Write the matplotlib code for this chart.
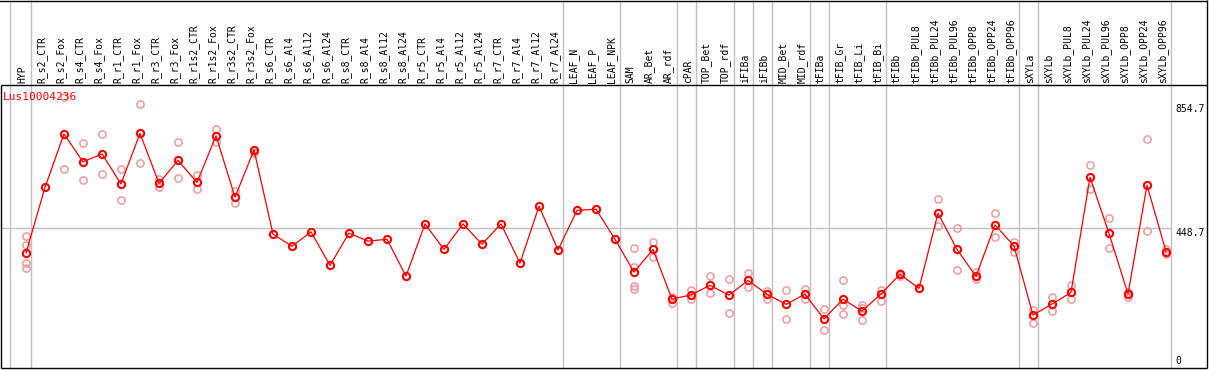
import matplotlib
matplotlib.use("Agg")
import matplotlib.pyplot as plt

# sample names (x categories)
samples = ["HYP", "R_s2_CTR", "R_s2_Fox", "R_s4_CTR", "R_s4_Fox", "R_r1_CTR", "R_r1_Fox",
           "R_r3_CTR", "R_r3_Fox", "R_r1s2_CTR", "R_r1s2_Fox", "R_r3s2_CTR", "R_r3s2_Fox",
           "R_s6_CTR", "R_s6_Al4", "R_s6_Al12", "R_s6_Al24", "R_s8_CTR", "R_s8_Al4",
           "R_s8_Al12", "R_s8_Al24", "R_r5_CTR", "R_r5_Al4", "R_r5_Al12", "R_r5_Al24",
           "R_r7_CTR", "R_r7_Al4", "R_r7_Al12", "R_r7_Al24", "LEAF_N", "LEAF_P", "LEAF_NPK",
           "SAM", "AR_Bet", "AR_rdf", "cPAR", "TOP_Bet", "TOP_rdf", "iFIBa", "iFIBb",
           "MID_Bet", "MID_rdf", "tFIBa", "tFIB_Gr", "tFIB_Li", "tFIB_Bi", "tFIBb",
           "tFIBb_PUL8", "tFIBb_PUL24", "tFIBb_PUL96", "tFIBb_OPP8", "tFIBb_OPP24", "tFIBb_OPP96",
           "sXYLa", "sXYLb", "sXYLb_PUL8", "sXYLb_PUL24", "sXYLb_PUL96", "sXYLb_OPP8",
           "sXYLb_OPP24", "sXYLb_OPP96"]

# mean expression per sample
means = [368, 582, 756, 665, 691, 593, 758, 595, 670, 598, 750, 550, 704,
         430, 390, 437, 328, 433, 407, 413, 293, 463, 380, 463, 397, 463, 335, 521, 378,
         507, 511, 413,
         306, 380, 218, 232, 263, 231, 279, 234, 201, 234, 154, 218, 179, 235, 299,
         253, 498, 380, 292, 460, 391,
         166, 202, 240, 615, 432, 235, 589, 373]

# single replicates (empty = hidden under the mean marker)
replicates = [[424, 394, 335, 319], [], [875, 641], [726, 606], [756, 626], [641, 540],
              [854, 660], [608, 582], [730, 612], [621, 578], [771, 731], [571, 530], [701, 695],
              [], [], [], [], [], [], [], [], [], [], [], [], [], [], [], [], [], [], [],
              [384, 324, 261, 250], [404, 356], [226, 205], [248, 220], [293, 237], [285, 174],
              [304, 259], [246, 220], [248, 153], [250, 220], [186, 117], [280, 198, 171],
              [199, 188, 149], [249, 212], [304, 293],
              [], [543, 456], [449, 313], [305, 284], [499, 420], [405, 373],
              [183, 139], [226, 180], [264, 218], [654, 576], [481, 384], [242, 226],
              [740, 439], [380, 365]]

# group separators (after these sample indices)
separators = [0, 28, 31, 34, 35, 37, 38, 39, 41, 42, 45, 52, 53, 60]

ymax_label = 854.7
ymid_label = 448.7
title = "Lus10004236"

W, H = 1209, 370
fig = plt.figure(figsize=(W / 100, H / 100), dpi=100)
# axes covers the whole drawing: header on top, plot below
ax = fig.add_axes([1 / W, (H - 368) / H, 1206 / W, 368 / H])

ppu = 0.3071          # pixels per unit
y0px = 366.1          # pixel row of value 0
def val(py):
    return (y0px - py) / ppu

xl, xr = (1 - 26) / 19, (1207 - 26) / 19
ax.set_xlim(xl, xr)
ax.set_ylim(val(368), val(0))
ax.axis("off")

grid = "#c0c0c0"
top_plot = val(85)
for s in [-0.84] + [i + 0.24 for i in separators]:
    ax.plot([s, s], [val(368), val(0)], color=grid, lw=1, solid_capstyle="butt", zorder=1)
ax.plot([xl, 60.24], [ymid_label, ymid_label], color=grid, lw=1, zorder=1)

# frame
k = dict(color="black", lw=1.0, solid_capstyle="butt", zorder=5, clip_on=False)
ax.plot([xl, xr], [top_plot, top_plot], **k)
ax.plot([xl, xr], [val(367.5), val(367.5)], **k)
ax.plot([xl, xl], [val(368), top_plot], **k)
ax.plot([xr, xr], [val(368), val(0)], **k)
ax.plot([xl - 1, xr], [val(0.5), val(0.5)], **k)

x = list(range(len(samples)))
for i, reps in enumerate(replicates):
    if reps:
        ax.plot([i] * len(reps), reps, linestyle="none", marker="o", markersize=5.2,
                markerfacecolor="none", markeredgecolor="#ee9a9a", markeredgewidth=1.1, zorder=2)
ax.plot(x, means, color="#ff0000", lw=0.9, zorder=3)
ax.plot(x, means, linestyle="none", marker="o", markersize=5.2, markerfacecolor="none",
        markeredgecolor="#ff0000", markeredgewidth=1.5, zorder=4)

font = "DejaVu Sans Mono"
for i, name in enumerate(samples):
    ax.text(i - 0.17, val(83), name, rotation=90, ha="center", va="bottom",
            fontsize=7, family=font, color="black")

ax.text(xl + 0.1, val(97), title, color="#ff0000", fontsize=8, family=font,
        ha="left", va="center")
ax.text(60.5, ymax_label, "854.7", fontsize=7, family=font, ha="left", va="top")
ax.text(60.5, ymid_label, "448.7", fontsize=7, family=font, ha="left", va="top")
ax.text(60.5, 0, "0", fontsize=7, family=font, ha="left", va="bottom")

fig.savefig("out.png", dpi=100)
